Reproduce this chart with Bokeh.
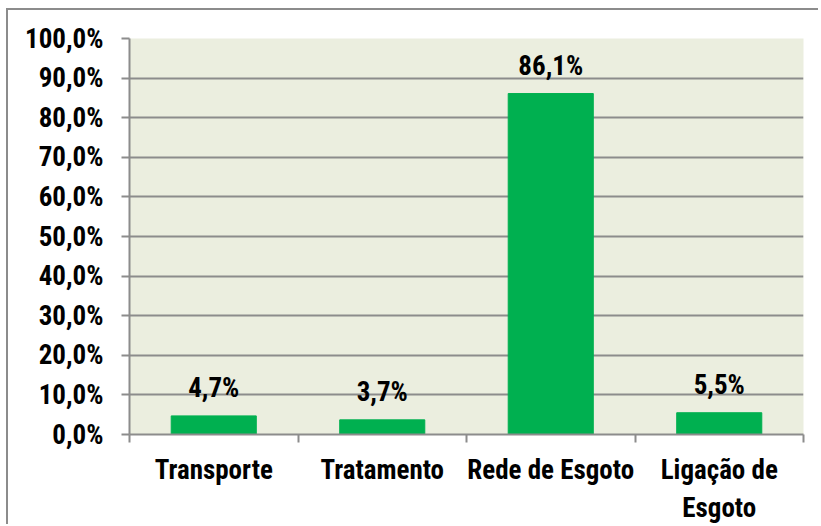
from bokeh.plotting import figure
from bokeh.models import (ColumnDataSource, Range1d, FixedTicker, LinearAxis, LabelSet)
from bokeh.core.properties import value
from bokeh.embed import file_html
from bokeh.resources import INLINE

categories = ["Transporte", "Tratamento", "Rede de Esgoto", "Ligação de\nEsgoto"]
values = [4.7, 3.7, 86.1, 5.5]
y_ticks = [0, 10, 20, 30, 40, 50, 60, 70, 80, 90, 100]
y_tick_labels = ["0,0%", "10,0%", "20,0%", "30,0%", "40,0%", "50,0%", "60,0%", "70,0%", "80,0%", "90,0%", "100,0%"]

FONT = "Roboto Condensed"
FS = "27px"
GRAY = "#8c8c8c"

n = len(categories)
xs = list(range(1, n + 1))
labels = [f"{v:.1f}".replace(".", ",") + "%" for v in values]
src = ColumnDataSource(dict(x=xs, val=values, lab=labels))

p = figure(x_range=Range1d(0.5, n + 0.5), y_range=Range1d(0, 100),
           width=812, height=516, output_backend="svg", toolbar_location=None,
           min_border_left=121, min_border_right=17, min_border_top=28, min_border_bottom=90)
p.styles = {"margin-left": "6px", "margin-top": "8px",
            "border-left": f"2px solid {GRAY}", "border-top": f"2px solid {GRAY}"}
p.background_fill_color = "#ebeedf"
p.border_fill_color = "white"
p.outline_line_color = None

p.vbar(x="x", top="val", width=0.505, source=src, color="#00b050")
p.add_layout(LabelSet(x="x", y="val", text="lab", source=src, text_align="center",
                      text_baseline="alphabetic", y_offset=19, text_font=value(FONT),
                      text_font_size=value(FS), text_font_style="bold", text_color="black"))

# y axis
p.yaxis.ticker = FixedTicker(ticks=y_ticks)
p.yaxis.major_label_overrides = {t: l for t, l in zip(y_ticks, y_tick_labels)}
p.yaxis.major_label_text_font = FONT
p.yaxis.major_label_text_font_size = FS
p.yaxis.major_label_text_font_style = "bold"
p.yaxis.major_label_text_color = "black"
p.yaxis.major_label_standoff = 18
p.yaxis.major_tick_in = 0
p.yaxis.major_tick_out = 8
p.yaxis.minor_tick_line_color = None
p.yaxis.axis_line_color = GRAY
p.yaxis.axis_line_width = 2
p.yaxis.major_tick_line_color = GRAY
p.yaxis.major_tick_line_width = 2
p.ygrid.ticker = FixedTicker(ticks=y_ticks)
p.ygrid.grid_line_color = GRAY
p.ygrid.grid_line_width = 2
p.xgrid.grid_line_color = None

# x axis: boundary ticks (first axis) + category labels (second axis)
bounds = [x - 0.5 for x in xs] + [xs[-1] + 0.5]
tick_axis = p.xaxis[0]
tick_axis.ticker = FixedTicker(ticks=bounds)
tick_axis.major_label_overrides = {b: "" for b in bounds}
tick_axis.major_label_text_font_size = "1px"
tick_axis.major_label_standoff = 0
tick_axis.major_tick_in = 0
tick_axis.major_tick_out = 8
tick_axis.minor_tick_line_color = None
tick_axis.axis_line_color = GRAY
tick_axis.axis_line_width = 2
tick_axis.major_tick_line_color = GRAY
tick_axis.major_tick_line_width = 2

cat_axis = LinearAxis(ticker=FixedTicker(ticks=xs),
                      major_label_overrides={x: c for x, c in zip(xs, categories)},
                      axis_line_color=None, major_tick_line_color=None, minor_tick_line_color=None,
                      major_label_text_font=FONT, major_label_text_font_size=FS,
                      major_label_text_font_style="bold", major_label_text_color="black",
                      major_label_standoff=5)
p.add_layout(cat_axis, "below")

open("out.html", "w").write(file_html(p, INLINE))
